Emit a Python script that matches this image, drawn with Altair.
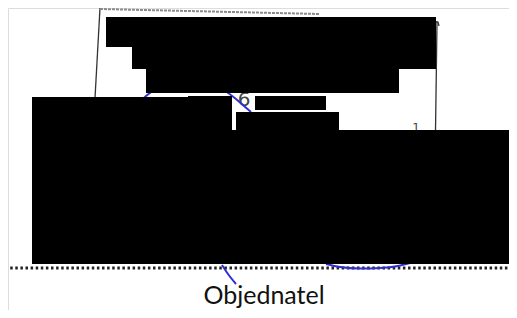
import altair as alt
import pandas as pd

# Redaction blocks (image pixel coordinates)
rect_x1 = [106, 132, 146, 32, 188, 255, 236, 32]
rect_x2 = [436, 436, 399, 232, 232, 326, 339, 517]
rect_y1 = [17, 47, 69, 97, 96, 96, 112, 130]
rect_y2 = [47, 69, 93, 131, 110, 110, 131, 264]

# Blue signature strokes
ink_id = [1, 1, 1, 2, 2, 2, 2, 3, 3, 3, 3, 3, 3, 4, 4, 4]
ink_x = [141, 146, 153, 224, 236, 244, 251, 326, 340, 360, 380, 398, 410, 222, 228, 236]
ink_y = [101, 96, 91, 90, 99, 106, 112, 264, 267, 268.5, 268, 266, 263, 265, 274, 284]

# Scanned document frame
frame_id = [1, 1, 2, 2, 3, 3, 3]
frame_x = [100, 95, 437, 435.5, 433, 438, 439]
frame_y = [8, 98, 22, 131, 21, 22, 26]
top_x = [100, 320]
top_y = [9, 14]

# Dotted signature line
dots_x = [0, 517]
dots_y = [268, 268]

# Text fragments
frag_text = ["6", "1"]
frag_x = [244, 416]
frag_y = [100, 128]
frag_size = [20, 12]

label_text = ["Objednatel"]
label_x = [264]
label_y = [304]

W, H = 501, 302
xs = alt.Scale(domain=[8, 8 + W], nice=False, zero=False)
ys = alt.Scale(domain=[8, 8 + H], nice=False, zero=False, reverse=True)

def X(f):
    return alt.X(f, type="quantitative", scale=xs, axis=None)

def Y(f):
    return alt.Y(f, type="quantitative", scale=ys, axis=None)

rects = pd.DataFrame({"x1": rect_x1, "x2": rect_x2, "y1": rect_y1, "y2": rect_y2})
ink = pd.DataFrame({"id": ink_id, "x": ink_x, "y": ink_y, "o": range(len(ink_x))})
frame = pd.DataFrame({"id": frame_id, "x": frame_x, "y": frame_y, "o": range(len(frame_x))})
top = pd.DataFrame({"x": top_x, "y": top_y})
dots = pd.DataFrame({"x": dots_x, "y": dots_y})
frags = pd.DataFrame({"t": frag_text, "x": frag_x, "y": frag_y, "s": frag_size})
label = pd.DataFrame({"t": label_text, "x": label_x, "y": label_y})

frame_layer = alt.Chart(frame).mark_line(color="#333333", strokeWidth=1.3, clip=True).encode(
    x=X("x"), y=Y("y"), detail="id:N", order="o:Q")
top_layer = alt.Chart(top).mark_line(color="#8a8a8a", strokeWidth=2, strokeDash=[3, 1], clip=True).encode(
    x=X("x"), y=Y("y"))
frag_layer = alt.Chart(frags).mark_text(color="#444444", font="DejaVu Sans", baseline="middle", align="center").encode(
    x=X("x"), y=Y("y"), text="t:N", size=alt.Size("s:Q", scale=None, legend=None))
dots_layer = alt.Chart(dots).mark_line(color="#222222", strokeWidth=3, strokeDash=[2.5, 2.6], clip=True).encode(
    x=X("x"), y=Y("y"))
ink_layer = alt.Chart(ink).mark_line(color="#2f2fd0", strokeWidth=2, interpolate="monotone", clip=True).encode(
    x=X("x"), y=Y("y"), detail="id:N", order="o:Q")
rect_layer = alt.Chart(rects).mark_rect(color="#000000", clip=True).encode(
    x=X("x1"), x2="x2", y=Y("y1"), y2="y2")
label_layer = alt.Chart(label).mark_text(color="#111111", font="Lato", fontSize=25, baseline="alphabetic", align="center").encode(
    x=X("x"), y=Y("y"), text="t:N")

chart = alt.layer(
    frame_layer, top_layer, frag_layer, dots_layer, ink_layer, rect_layer, label_layer
).properties(
    width=W, height=H, padding=0, autosize=alt.AutoSizeParams(type="none")
).configure_view(stroke=None).configure(background="white")

chart.save("out.html", embed_options={"renderer": "svg", "actions": False})
